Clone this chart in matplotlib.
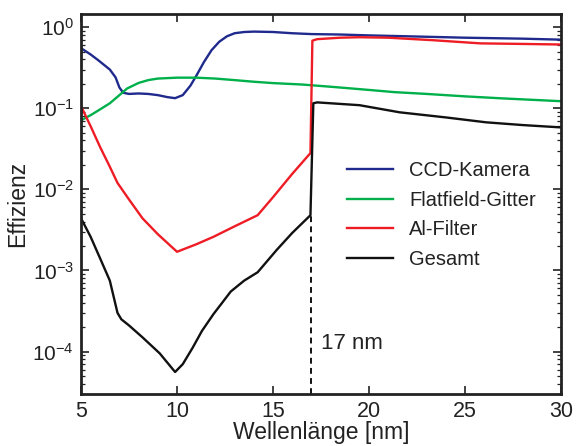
import matplotlib
matplotlib.use("Agg")
import matplotlib.pyplot as plt
from matplotlib.ticker import LogLocator, NullFormatter, FixedLocator

plt.rcParams['font.family'] = ['Liberation Sans', 'DejaVu Sans']
plt.rcParams['mathtext.fontset'] = 'custom'
plt.rcParams['mathtext.rm'] = 'Liberation Sans'
plt.rcParams['mathtext.it'] = 'Liberation Sans'

# CCD-Kamera
ccd_x = [5.0, 5.5, 5.9, 6.5, 6.8, 7.0, 7.2, 7.5, 8.0, 8.5, 9.0, 9.5, 9.9, 10.3, 10.7,
         11.0, 11.4, 11.8, 12.2, 12.6, 13.0, 13.5, 14.0, 15.0, 16.0, 17.0, 18.5, 20.0,
         22.0, 25.0, 28.0, 30.0]
ccd_y = [0.55, 0.46, 0.39, 0.30, 0.24, 0.18, 0.155, 0.150, 0.152, 0.150, 0.145, 0.137,
         0.133, 0.145, 0.19, 0.25, 0.37, 0.52, 0.66, 0.77, 0.84, 0.87, 0.88, 0.87, 0.84,
         0.82, 0.81, 0.79, 0.77, 0.74, 0.72, 0.70]

# Flatfield-Gitter
grat_x = [5.0, 5.5, 6.0, 6.5, 7.0, 7.4, 8.0, 8.5, 9.0, 10.0, 11.0, 12.0, 13.0, 14.0,
          15.0, 16.5, 18.0, 20.0, 21.3, 23.0, 25.0, 27.0, 30.0]
grat_y = [0.071, 0.082, 0.097, 0.115, 0.145, 0.175, 0.205, 0.222, 0.232, 0.238, 0.238,
          0.232, 0.222, 0.212, 0.204, 0.196, 0.184, 0.168, 0.158, 0.150, 0.140, 0.132, 0.122]

# Al-Filter
al_x = [5.0, 5.5, 6.0, 6.5, 6.9, 7.5, 8.2, 9.0, 10.0, 11.0, 11.9, 13.0, 14.2, 15.0,
        16.0, 16.95, 17.05, 17.3, 18.5, 19.5, 21.0, 23.3, 25.8, 28.0, 30.0]
al_y = [0.106, 0.060, 0.033, 0.019, 0.012, 0.0075, 0.0044, 0.0028, 0.0017, 0.0021,
        0.0026, 0.0035, 0.0048, 0.0080, 0.0155, 0.028, 0.68, 0.71, 0.74, 0.75, 0.74,
        0.69, 0.63, 0.62, 0.61]

# Gesamt
tot_x = [5.0, 5.5, 6.0, 6.5, 6.9, 7.1, 7.5, 8.2, 9.1, 9.9, 10.3, 10.8, 11.3, 11.9,
         12.8, 13.5, 14.2, 15.2, 16.0, 16.95, 17.1, 17.3, 19.5, 21.6, 24.0, 26.1, 28.0, 30.0]
tot_y = [0.0044, 0.0026, 0.0014, 0.00075, 0.00030, 0.00025, 0.00021, 0.00015, 9.5e-5,
         5.6e-5, 7e-5, 1.1e-4, 1.8e-4, 2.9e-4, 5.5e-4, 7.5e-4, 9.5e-4, 0.0018, 0.0029,
         0.0048, 0.115, 0.118, 0.109, 0.089, 0.077, 0.067, 0.062, 0.058]

labels = ['CCD-Kamera', 'Flatfield-Gitter', 'Al-Filter', 'Gesamt']
colors = ['#1f2a8c', '#00b04a', '#ee1c25', '#111111']

edge_x = 17
edge_label = '17 nm'

fig = plt.figure(figsize=(5.77, 4.46), dpi=100)
ax = fig.add_axes([0.1404, 0.1166, 0.8319, 0.8520])

for xs, ys, lab, col in zip([ccd_x, grat_x, al_x, tot_x], [ccd_y, grat_y, al_y, tot_y], labels, colors):
    ax.plot(xs, ys, color=col, lw=1.7, label=lab)

ymin, ymax = 3e-5, 1.45
ax.vlines(edge_x, ymin, tot_y[tot_x.index(16.95)], colors='#111111', linestyles=(0, (3, 2.2)), lw=1.4)
ax.text(17.5, 1.26e-4, edge_label, fontsize=16, va='center', ha='left', color='#222222')

ax.set_yscale('log')
ax.set_xlim(5, 30)
ax.set_ylim(ymin, ymax)
ax.set_xticks([5, 10, 15, 20, 25, 30])
ax.yaxis.set_major_locator(FixedLocator([1e-4, 1e-3, 1e-2, 1e-1, 1e0]))
ax.yaxis.set_minor_locator(LogLocator(base=10, subs=range(2, 10)))
ax.yaxis.set_minor_formatter(NullFormatter())

ax.tick_params(which='both', direction='in', top=True, right=True, labelsize=15.5, colors='#222222')
ax.tick_params(axis='y', labelsize=15)
ax.tick_params(which='major', length=6, width=1.2, pad=5)
ax.tick_params(which='minor', length=3, width=0.9)
for s in ax.spines.values():
    s.set_linewidth(2)
    s.set_color('#222222')

ax.set_xlabel('Wellenlänge [nm]', fontsize=16.5, labelpad=-1, color='#222222')
ax.set_ylabel('Effizienz', fontsize=16.5, color='#222222')
ax.yaxis.set_label_coords(-0.108, 0.5)

leg = ax.legend(loc='upper left', bbox_to_anchor=(0.554, 0.612), frameon=False, fontsize=14.5,
                handlelength=2.3, handletextpad=0.8, labelspacing=0.52,
                borderpad=0, borderaxespad=0)
for t in leg.get_texts():
    t.set_color('#222222')

fig.savefig('out.png', dpi=100)
